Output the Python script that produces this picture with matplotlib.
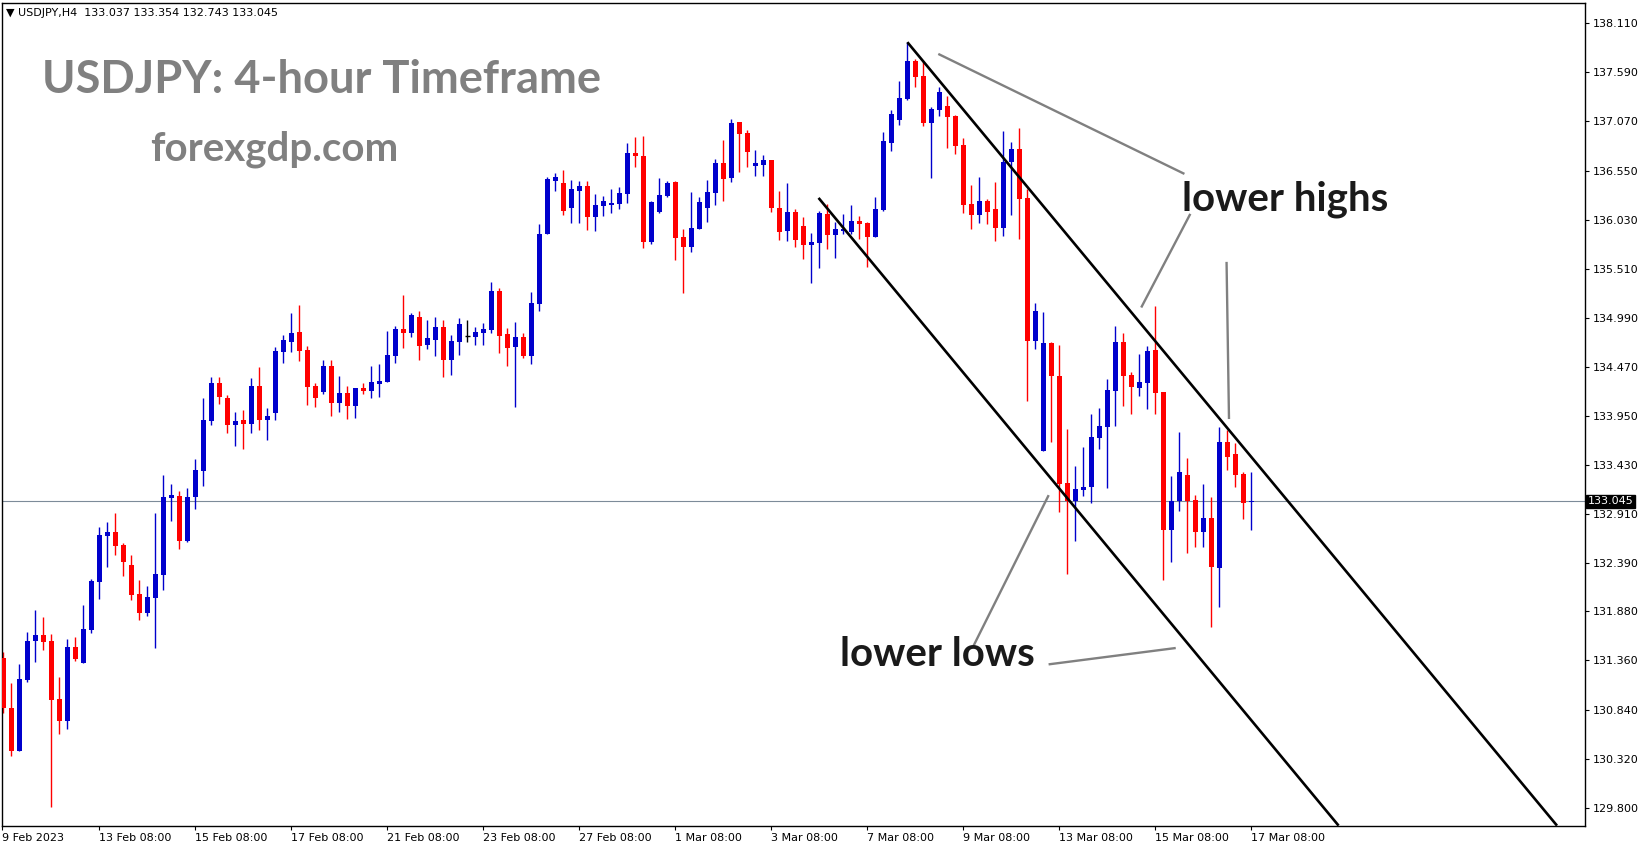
"""
plot.py — USDJPY H4 candlestick chart with a descending channel (MT4 style).

Candles are indexed 0..156 along x (one slot per 4-hour bar); prices on a right-hand axis.
"""
import matplotlib
matplotlib.use("Agg")
import matplotlib.pyplot as plt

# ── Data ─────────────────────────────────────────────────────────────────────
opens = [
    131.383, 130.857, 130.405, 131.153, 131.570, 131.630, 131.567, 130.952, 130.723, 131.503,
    131.337, 131.683, 132.195, 132.683, 132.721, 132.584, 132.372, 132.065, 131.863, 132.022,
    132.266, 133.082, 133.103, 132.626, 133.092, 133.371, 133.897, 134.300, 134.141, 133.859,
    133.908, 133.869, 134.268, 133.912, 133.982, 134.628, 134.738, 134.840, 134.650, 134.268,
    134.205, 134.480, 134.088, 134.194, 134.056, 134.247, 134.215, 134.289, 134.311, 134.586,
    134.872, 134.830, 135.000, 134.702, 134.755, 134.893, 134.543, 134.734, 134.797, 134.787,
    134.829, 134.861, 135.274, 134.819, 134.681, 134.787, 134.586, 135.137, 135.878, 136.440,
    136.418, 136.153, 136.334, 136.387, 136.058, 136.175, 136.185, 136.196, 136.302, 136.737,
    136.705, 135.794, 136.111, 136.281, 136.429, 135.847, 135.741, 135.931, 136.154, 136.313,
    136.631, 136.472, 137.065, 136.948, 136.599, 136.609, 136.662, 136.154, 135.910, 136.112,
    135.963, 135.762, 135.783, 136.090, 135.868, 135.910, 135.899, 136.016, 135.994, 135.846,
    136.132, 136.842, 137.086, 137.308, 137.711, 137.552, 137.054, 137.192, 137.234, 137.128,
    136.821, 136.196, 136.079, 136.227, 136.143, 135.941, 136.641, 136.778, 136.259, 134.741,
    133.580, 134.724, 134.374, 133.241, 133.050, 133.166, 133.198, 133.717, 133.834, 134.215,
    134.734, 134.385, 134.247, 134.300, 134.650, 134.205, 132.746, 133.050, 133.325, 133.060,
    132.721, 132.870, 132.344, 133.675, 133.548, 133.336, 133.037,
]
highs = [
    131.450, 131.122, 131.323, 131.662, 131.895, 131.821, 131.641, 131.185, 131.588, 131.609,
    131.948, 132.223, 132.774, 132.827, 132.923, 132.605, 132.478, 132.213, 132.149, 132.923,
    133.325, 133.230, 133.156, 133.187, 133.495, 134.145, 134.364, 134.364, 134.173, 133.993,
    134.014, 134.353, 134.469, 134.035, 134.681, 134.808, 135.042, 135.126, 134.692, 134.300,
    134.544, 134.544, 134.374, 134.268, 134.247, 134.300, 134.480, 134.501, 134.851, 134.904,
    135.232, 135.042, 135.063, 134.967, 134.999, 134.967, 134.808, 134.988, 134.967, 134.893,
    134.935, 135.370, 135.306, 134.882, 134.946, 134.829, 135.264, 135.984, 136.482, 136.524,
    136.556, 136.450, 136.440, 136.440, 136.302, 136.281, 136.355, 136.376, 136.842, 136.906,
    136.917, 136.228, 136.472, 136.440, 136.440, 135.931, 136.323, 136.270, 136.451, 136.673,
    136.874, 137.097, 137.065, 136.980, 136.768, 136.715, 136.662, 136.334, 136.419, 136.143,
    136.059, 135.889, 136.122, 136.196, 136.006, 136.090, 136.185, 136.069, 136.000, 136.270,
    136.958, 137.192, 137.499, 137.912, 137.732, 137.711, 137.223, 137.435, 137.340, 137.139,
    136.895, 136.397, 136.482, 136.249, 136.429, 136.969, 136.852, 137.001, 136.355, 135.147,
    135.052, 134.734, 134.703, 133.813, 133.421, 133.622, 133.972, 134.035, 134.342, 134.904,
    134.830, 134.416, 134.607, 134.692, 135.116, 134.205, 133.315, 133.781, 133.505, 133.113,
    133.230, 133.092, 133.834, 133.802, 133.664, 133.357, 133.354,
]
lows = [
    130.807, 130.352, 130.400, 131.136, 131.348, 131.475, 129.812, 130.585, 130.638, 131.358,
    131.337, 131.655, 132.012, 132.351, 132.478, 132.255, 132.001, 131.789, 131.831, 131.492,
    132.107, 132.838, 132.541, 132.615, 132.965, 133.212, 133.855, 134.081, 133.770, 133.633,
    133.601, 133.770, 133.802, 133.696, 133.908, 134.512, 134.628, 134.533, 134.067, 134.046,
    134.184, 133.950, 133.993, 133.919, 133.929, 134.184, 134.141, 134.152, 134.311, 134.512,
    134.671, 134.787, 134.543, 134.660, 134.586, 134.363, 134.384, 134.596, 134.734, 134.702,
    134.702, 134.829, 134.617, 134.480, 134.045, 134.565, 134.501, 135.062, 135.878, 136.334,
    136.079, 135.995, 135.995, 135.920, 135.910, 136.069, 136.101, 136.143, 136.207, 136.588,
    135.730, 135.773, 136.101, 136.270, 135.603, 135.253, 135.688, 135.931, 136.006, 136.186,
    136.228, 136.429, 136.535, 136.588, 136.493, 136.493, 136.112, 135.815, 135.804, 135.741,
    135.614, 135.359, 135.518, 135.720, 135.624, 135.878, 135.878, 135.825, 135.528, 135.846,
    136.122, 136.757, 137.033, 137.297, 137.435, 137.022, 136.471, 137.128, 136.789, 136.725,
    136.100, 135.931, 135.994, 135.984, 135.804, 135.857, 136.079, 135.825, 134.109, 134.660,
    133.580, 133.675, 132.933, 132.280, 132.626, 133.103, 133.029, 133.601, 133.188, 133.844,
    134.056, 133.972, 134.162, 134.024, 133.972, 132.216, 132.407, 132.944, 132.503, 132.566,
    132.566, 131.719, 131.930, 133.378, 133.198, 132.859, 132.743,
]
closes = [
    130.853, 130.405, 131.164, 131.567, 131.630, 131.560, 130.945, 130.723, 131.503, 131.376,
    131.694, 132.202, 132.690, 132.721, 132.573, 132.404, 132.054, 131.863, 132.033, 132.276,
    133.092, 133.113, 132.626, 133.092, 133.378, 133.908, 134.300, 134.155, 133.859, 133.897,
    133.869, 134.268, 133.912, 133.950, 134.639, 134.755, 134.830, 134.643, 134.258, 134.141,
    134.480, 134.088, 134.194, 134.056, 134.247, 134.215, 134.311, 134.321, 134.597, 134.872,
    134.830, 135.020, 134.695, 134.776, 134.893, 134.543, 134.745, 134.925, 134.797, 134.840,
    134.872, 135.274, 134.797, 134.670, 134.787, 134.586, 135.147, 135.878, 136.461, 136.482,
    136.122, 136.355, 136.387, 136.058, 136.185, 136.228, 136.206, 136.312, 136.737, 136.705,
    135.794, 136.217, 136.292, 136.419, 135.836, 135.741, 135.942, 136.217, 136.323, 136.631,
    136.461, 137.054, 136.938, 136.747, 136.631, 136.662, 136.154, 135.900, 136.112, 135.815,
    135.762, 135.794, 136.101, 135.868, 135.931, 135.931, 136.016, 135.984, 135.846, 136.143,
    136.863, 137.149, 137.319, 137.711, 137.541, 137.054, 137.202, 137.382, 137.117, 136.810,
    136.185, 136.079, 136.227, 136.111, 135.941, 136.641, 136.778, 136.249, 134.741, 135.063,
    134.724, 134.374, 133.233, 133.050, 133.177, 133.198, 133.728, 133.844, 134.226, 134.734,
    134.374, 134.258, 134.311, 134.639, 134.194, 132.746, 133.050, 133.357, 133.050, 132.721,
    132.870, 132.354, 133.675, 133.516, 133.325, 133.029, 133.045,
]

# x-axis labels: one every 12 bars (2 trading days of H4)
date_ticks = [12, 24, 36, 48, 60, 72, 84, 96, 108, 120, 132, 144, 156]
date_labels = ["13 Feb 08:00", "15 Feb 08:00", "17 Feb 08:00", "21 Feb 08:00",
               "23 Feb 08:00", "27 Feb 08:00", "1 Mar 08:00", "3 Mar 08:00",
               "7 Mar 08:00", "9 Mar 08:00", "13 Mar 08:00", "15 Mar 08:00",
               "17 Mar 08:00"]
first_label = "9 Feb 2023"

price_ticks = [138.110, 137.590, 137.070, 136.550, 136.030, 135.510, 134.990, 134.470,
               133.950, 133.430, 132.910, 132.390, 131.880, 131.360, 130.840, 130.320,
               129.800]
last_price = 133.045

# channel lines (bar index, price)
upper_channel = [(113.0, 137.91), (194.2, 129.61)]
lower_channel = [(101.9, 136.26), (166.9, 129.61)]

# grey pointer lines (bar index, price)
pointers = [
    [(117.0, 137.78), (147.5, 136.52)],
    [(148.3, 136.08), (142.3, 135.11)],
    [(152.9, 135.57), (153.2, 133.93)],
    [(121.3, 131.52), (130.6, 133.10)],
    [(130.8, 131.32), (146.4, 131.49)],
]

# ── Style ────────────────────────────────────────────────────────────────────
BULL = "#0000cc"
BEAR = "#ff0000"
GREY = "#808080"
W, H = 1649, 850


def plot() -> None:
    fig = plt.figure(figsize=(W / 100, H / 100), dpi=100)
    ax = fig.add_axes([2 / W, (H - 826) / H, (1585 - 2) / W, (826 - 3) / H])
    ax.set_xlim(-0.16, 197.7)
    ax.set_ylim(129.606, 138.325)

    # candles
    for i, (o, h, l, c) in enumerate(zip(opens, highs, lows, closes)):
        color = BULL if c > o else (BEAR if c < o else "black")
        ax.vlines(i, l, h, color=color, lw=1.0, zorder=2)
        if c == o:
            ax.hlines(o, i - 0.35, i + 0.35, color=color, lw=1.0, zorder=3)
        else:
            ax.bar(i, max(abs(c - o), 0.012), bottom=min(o, c), width=0.62,
                   color=color, lw=0, zorder=3)

    # current price line
    ax.axhline(last_price, color="#7d8b99", lw=0.8, zorder=1)

    # channel + pointers
    for (x0, y0), (x1, y1) in (upper_channel, lower_channel):
        ax.plot([x0, x1], [y0, y1], color="black", lw=1.9, zorder=4,
                solid_capstyle="butt")
    for (x0, y0), (x1, y1) in pointers:
        ax.plot([x0, x1], [y0, y1], color=GREY, lw=1.7, zorder=4)

    # axes: right price scale, bottom dates
    for side in ("top", "right", "bottom", "left"):
        ax.spines[side].set_linewidth(1.0)
    ax.yaxis.tick_right()
    ax.set_yticks(price_ticks)
    ax.set_yticklabels([f"{p:.3f}" for p in price_ticks])
    ax.tick_params(axis="y", direction="out", length=3, width=0.8, pad=2.5,
                   labelsize=8)
    ax.set_xticks([-0.16] + date_ticks)
    ax.set_xticklabels([first_label] + date_labels)
    ax.tick_params(axis="x", direction="out", length=3, width=0.8, pad=2,
                   labelsize=8)
    for lab in ax.get_xticklabels():
        lab.set_ha("left")

    # last price tag
    fig.text(1588 / W, 1 - 501.5 / H, f"{last_price:.3f}", color="white",
             fontsize=8, va="center", ha="left",
             bbox=dict(boxstyle="square,pad=0.15", fc="black", ec="black"))

    # header + annotations
    fig.text(6 / W, 1 - 13 / H,
             "\u25bc USDJPY,H4  133.037 133.354 132.743 133.045",
             fontsize=8, va="center", ha="left")
    fig.text(42 / W, 1 - 80 / H, "USDJPY: 4-hour Timeframe", color=GREY,
             fontsize=32.6, fontweight="bold", family="Lato", va="center")
    fig.text(150 / W, 1 - 149 / H, "forexgdp.com", color=GREY,
             fontsize=29, fontweight="bold", family="Lato", va="center")
    fig.text(1285 / W, 1 - 199 / H, "lower highs", color="#1a1a1a",
             fontsize=29, fontweight="bold", family="Lato", va="center",
             ha="center")
    fig.text(937 / W, 1 - 654 / H, "lower lows", color="#1a1a1a",
             fontsize=29, fontweight="bold", family="Lato", va="center",
             ha="center")

    fig.savefig("out.png", dpi=100)
    plt.close(fig)


if __name__ == "__main__":
    plot()
